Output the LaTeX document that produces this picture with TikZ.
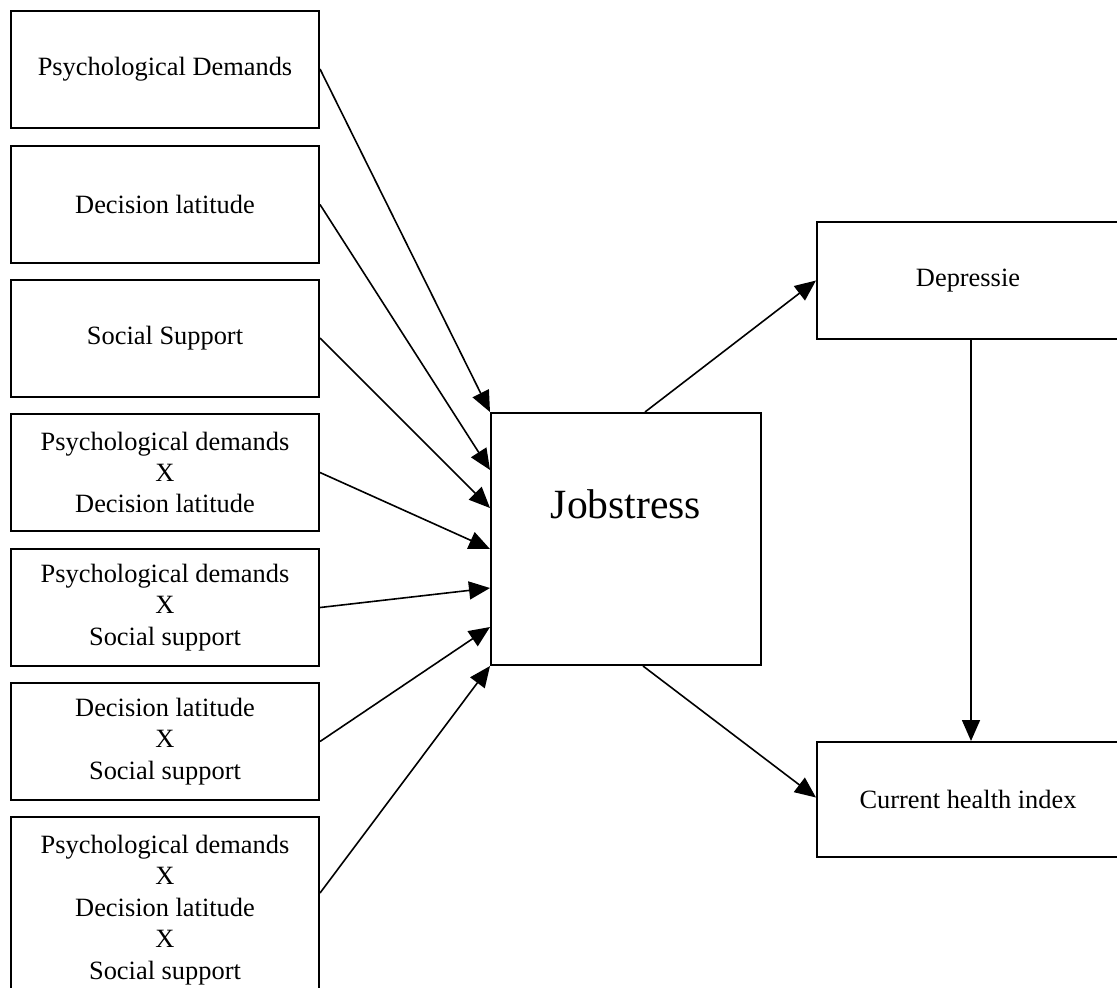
\documentclass[tikz,border=0pt]{standalone}
\usepackage{fontspec}
\setmainfont{Liberation Serif}
\usetikzlibrary{arrows.meta}
\begin{document}
\begin{tikzpicture}[x=0.5pt,y=-0.5pt,
  box/.style={draw, line width=1pt, inner sep=0pt, align=center,
    font=\fontsize{13.2pt}{15.7pt}\selectfont},
  lbox/.style={box, minimum width=154pt, minimum height=58.5pt},
  rbox/.style={box, minimum width=151pt, minimum height=58.5pt},
  link/.style={line width=0.8pt, -{Triangle[length=10.5pt,width=9pt]}}]
\useasboundingbox (0,0) rectangle (1117,987);
\clip (0,0) rectangle (1117,987);

% predictor boxes
\node[lbox] (b1) at (165,69)    {Psychological Demands};
\node[lbox] (b2) at (165,204.5) {Decision latitude};
\node[lbox] (b3) at (165,338)   {Social Support};
\node[lbox] (b4) at (165,472.5) {Psychological demands\\X\\Decision latitude};
\node[lbox] (b5) at (165,607.5) {Psychological demands\\X\\Social support};
\node[lbox] (b6) at (165,741.5) {Decision latitude\\X\\Social support};
\node[lbox, minimum height=93pt] (b7) at (165,910)
  {Psychological demands\\X\\Decision latitude\\X\\Social support};

% central construct
\node[draw, line width=1pt, minimum width=135pt, minimum height=126pt,
  inner sep=0pt] (js) at (626,539) {};
\node[anchor=base, inner sep=0pt, font=\fontsize{20.8pt}{24pt}\selectfont]
  (jslabel) at (626,518) {Jobstress};

% outcomes
\node[rbox] (dep) at (968,280.5) {Depressie};
\node[rbox, minimum height=57.5pt] (chi) at (968,799.5) {Current health index};

% predictor paths
\draw[link] (b1.east) -- (js.north west);
\draw[link] (b2.east) -- ([yshift=34.5pt]js.west);
\draw[link] (b3.east) -- ([yshift=15.5pt]js.west);
\draw[link] (b4.east) -- ([yshift=-5pt]js.west);
\draw[link] (b5.east) -- ([yshift=-24.5pt]js.west);
\draw[link] (b6.east) -- ([yshift=-44pt]js.west);
\draw[link] ([yshift=8.5pt]b7.east) -- (js.south west);

% outcome paths
\draw[link] ([xshift=9.5pt]js.north) -- (dep.west);
\draw[link] ([xshift=8.5pt]js.south) -- ([yshift=1pt]chi.west);
\draw[link] ([xshift=1.5pt]dep.south) -- ([xshift=1.5pt]chi.north);
\end{tikzpicture}
\end{document}
